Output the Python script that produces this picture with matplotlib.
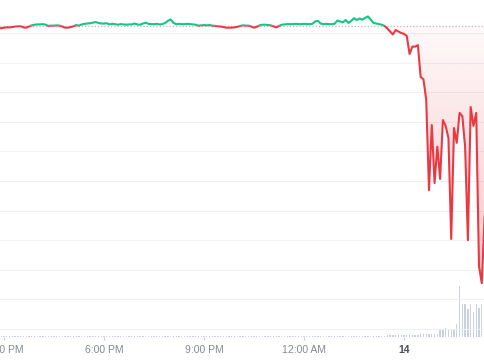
import numpy as np
import matplotlib
matplotlib.use("Agg")
import matplotlib.pyplot as plt
from matplotlib.patches import Rectangle, PathPatch
from matplotlib.path import Path
from matplotlib.colors import to_rgb
import matplotlib.transforms as mtransforms

# ---------------- data ----------------
# time axis: hours after 3:00 PM, 5-minute samples starting at 2:50 PM
start_hour = -10 / 60
step_hour = 5 / 60

prices = [
    1.0017, 1.0016, 1.0018, 1.0019, 1.0019, 1.0020, 1.0022, 1.0023, 1.0023, 1.0019,
    1.0018, 1.0022, 1.0026, 1.0028, 1.0029, 1.0029, 1.0030, 1.0028, 1.0024, 1.0025,
    1.0025, 1.0026, 1.0025, 1.0022, 1.0018, 1.0018, 1.0020, 1.0023, 1.0027, 1.0025,
    1.0029, 1.0031, 1.0032, 1.0033, 1.0035, 1.0037, 1.0034, 1.0032, 1.0032, 1.0033,
    1.0029, 1.0031, 1.0030, 1.0028, 1.0030, 1.0029, 1.0028, 1.0029, 1.0029, 1.0032,
    1.0029, 1.0028, 1.0032, 1.0035, 1.0031, 1.0030, 1.0030, 1.0031, 1.0029, 1.0030,
    1.0034, 1.0041, 1.0046, 1.0034, 1.0030, 1.0031, 1.0030, 1.0030, 1.0031, 1.0030,
    1.0029, 1.0028, 1.0025, 1.0026, 1.0027, 1.0026, 1.0027, 1.0025, 1.0024, 1.0023,
    1.0022, 1.0020, 1.0018, 1.0018, 1.0018, 1.0019, 1.0021, 1.0024, 1.0026, 1.0025,
    1.0025, 1.0022, 1.0018, 1.0021, 1.0026, 1.0028, 1.0028, 1.0027, 1.0026, 1.0023,
    1.0019, 1.0024, 1.0028, 1.0029, 1.0030, 1.0030, 1.0030, 1.0031, 1.0030, 1.0030,
    1.0031, 1.0030, 1.0030, 1.0031, 1.0039, 1.0041, 1.0032, 1.0030, 1.0031, 1.0030,
    1.0030, 1.0031, 1.0042, 1.0039, 1.0036, 1.0044, 1.0034, 1.0041, 1.0050, 1.0044,
    1.0049, 1.0045, 1.0051, 1.0056, 1.0046, 1.0034, 1.0032, 1.0030, 1.0028, 1.0024,
    1.0015, 1.0005, 0.9995, 1.0010, 1.0005, 1.0000, 0.9997, 0.9990, 0.9929, 0.9954,
    0.9954, 0.9959, 0.9851, 0.9844, 0.9774, 0.9469, 0.9689, 0.9493, 0.9616, 0.9507,
    0.9706, 0.9686, 0.9645, 0.9304, 0.9679, 0.9629, 0.9730, 0.9719, 0.9616, 0.9300,
    0.9750, 0.9686, 0.9730, 0.9212, 0.9155, 0.9375, 0.9486,
]

volumes = [
    1.1, 1.0, 1.2, 1.0, 0.9, 1.1, 1.0, 1.2, 1.1, 1.0, 0.9, 1.0, 1.1, 1.2, 1.0, 1.0, 0.9, 1.1, 1.0, 1.2,
    1.0, 1.1, 0.9, 1.0, 1.2, 1.1, 1.0, 0.9, 1.0, 1.1, 1.0, 1.2, 1.0, 0.9, 1.1, 1.0, 1.0, 1.2, 1.1, 1.0,
    0.9, 1.0, 1.1, 1.0, 1.2, 1.0, 0.9, 1.1, 1.0, 1.0, 1.1, 1.2, 1.0, 0.9, 1.0, 1.1, 1.0, 1.2, 1.0, 1.1,
    1.0, 1.3, 1.4, 1.1, 1.0, 0.9, 1.0, 1.1, 1.0, 1.2, 1.0, 0.9, 1.1, 1.0, 1.0, 1.2, 1.1, 1.0, 0.9, 1.0,
    1.1, 1.0, 1.2, 1.0, 0.9, 1.1, 1.0, 1.0, 1.2, 1.1, 1.0, 0.9, 1.0, 1.1, 1.0, 1.2, 1.0, 0.9, 1.1, 1.0,
    1.0, 1.1, 1.2, 1.0, 0.9, 1.0, 1.1, 1.0, 1.2, 1.0, 1.1, 1.0, 0.9, 1.0, 1.3, 1.2, 1.0, 1.1, 1.0, 1.0,
    1.1, 1.0, 1.3, 1.2, 1.1, 1.3, 1.2, 1.1, 1.4, 1.3, 1.4, 1.2, 1.3, 1.5, 1.3, 1.2, 1.1, 1.2, 1.3, 1.4,
    1.6, 1.8, 2.0, 1.7, 1.9, 1.8, 2.1, 1.9, 2.3, 2.2, 2.4, 2.3, 2.6, 2.8, 3.0, 3.3, 3.0, 3.5, 3.2, 7.0,
    8.0, 9.0, 7.0, 8.0, 8.0, 13.0, 51.0, 33.0, 33.0, 28.0, 33.0, 25.0, 33.0, 29.0, 33.0, 30.0, 30.0,
]

base_price = 1.0024
grid_prices = [1.00, 0.99, 0.98, 0.97, 0.96, 0.95, 0.94, 0.93, 0.92, 0.91, 0.90]
tick_hours = [0, 3, 6, 9, 12]
tick_labels = ["3:00 PM", "6:00 PM", "9:00 PM", "12:00 AM", "14"]
next_tick_hour = 15
next_tick_label = "6:00 AM"

# ---------------- style ----------------
GREEN = "#16c784"
RED = "#ea3943"
VOL = "#c9d1e2"
GRID = "#eff0f2"
LABEL = "#858a94"

x_lo, x_hi = -0.12, 14.43
p_lo, p_hi = 0.8973, 1.01115
v_lo, v_hi = 0.0, 337.0

t = start_hour + step_hour * np.arange(len(prices))
p = np.array(prices)
v = np.array(volumes)

fig = plt.figure(figsize=(4.85, 3.6), dpi=100, facecolor="white")
rect = [0.0, 23 / 360, 1.0, 337 / 360]

# volume axes (behind)
axv = fig.add_axes(rect, zorder=0)
axv.bar(t, v, width=0.45 * step_hour, color=VOL, linewidth=0)
axv.set_xlim(x_lo, x_hi)
axv.set_ylim(v_lo, v_hi)
axv.axis("off")

# price axes (front)
ax = fig.add_axes(rect, zorder=1)
ax.patch.set_alpha(0)
for s in ax.spines.values():
    s.set_visible(False)

for g in grid_prices:
    ax.axhline(g, color=GRID, lw=0.8, zorder=0)

ax.axhline(base_price, color="#b9bcc2", lw=0.9, linestyle=(0, (1, 1.6)), zorder=2)


def gradient_fill(mask, color, y_top, y_bot, a_top, a_bot):
    coll = ax.fill_between(t, p, base_price, where=mask, interpolate=True,
                           facecolor="none", edgecolor="none")
    paths = coll.get_paths()
    if not paths:
        return
    path = Path.make_compound_path(*paths)
    patch = PathPatch(path, transform=ax.transData, facecolor="none", edgecolor="none")
    ax.add_patch(patch)
    n = 256
    grad = np.zeros((n, 1, 4))
    grad[..., :3] = to_rgb(color)
    grad[..., 3] = np.linspace(a_top, a_bot, n)[:, None]
    im = ax.imshow(grad, extent=[x_lo - 1, x_hi + 1, y_bot, y_top], origin="upper",
                   aspect="auto", zorder=1, interpolation="bilinear")
    im.set_clip_path(patch)


gradient_fill(p < base_price, RED, base_price, 0.912, 0.03, 0.30)
gradient_fill(p > base_price, GREEN, 1.0058, base_price, 0.15, 0.0)

# price line, coloured above / below the base price
line_g, = ax.plot(t, p, color=GREEN, lw=1.5, solid_joinstyle="round", zorder=3)
line_r, = ax.plot(t, p, color=RED, lw=1.5, solid_joinstyle="round", zorder=3)
clip_up = Rectangle((x_lo - 1, base_price), x_hi - x_lo + 2, 1.0, transform=ax.transData)
clip_dn = Rectangle((x_lo - 1, base_price - 1.0), x_hi - x_lo + 2, 1.0, transform=ax.transData)
line_g.set_clip_path(clip_up)
line_r.set_clip_path(clip_dn)

ax.set_xlim(x_lo, x_hi)
ax.set_ylim(p_lo, p_hi)
ax.set_yticks([])
ax.set_xticks(tick_hours)
ax.set_xticklabels(tick_labels, family="Liberation Sans", fontsize=7.5, color=LABEL)
ax.tick_params(axis="x", length=2.2, width=0.8, color="#c9ced8", pad=3.4, direction="out")
lbl = ax.get_xticklabels()[4]
lbl.set_fontweight("bold")
lbl.set_color("#4b4f57")

trans = mtransforms.blended_transform_factory(ax.transData, ax.transAxes)
ax.text(next_tick_hour, -(3 / 337) - (3.4 / 72 * 100) / 337, next_tick_label,
        transform=trans, ha="center", va="top", family="Liberation Sans",
        fontsize=7.5, color=LABEL, clip_on=False)

fig.savefig("out.png", dpi=100, facecolor="white")
